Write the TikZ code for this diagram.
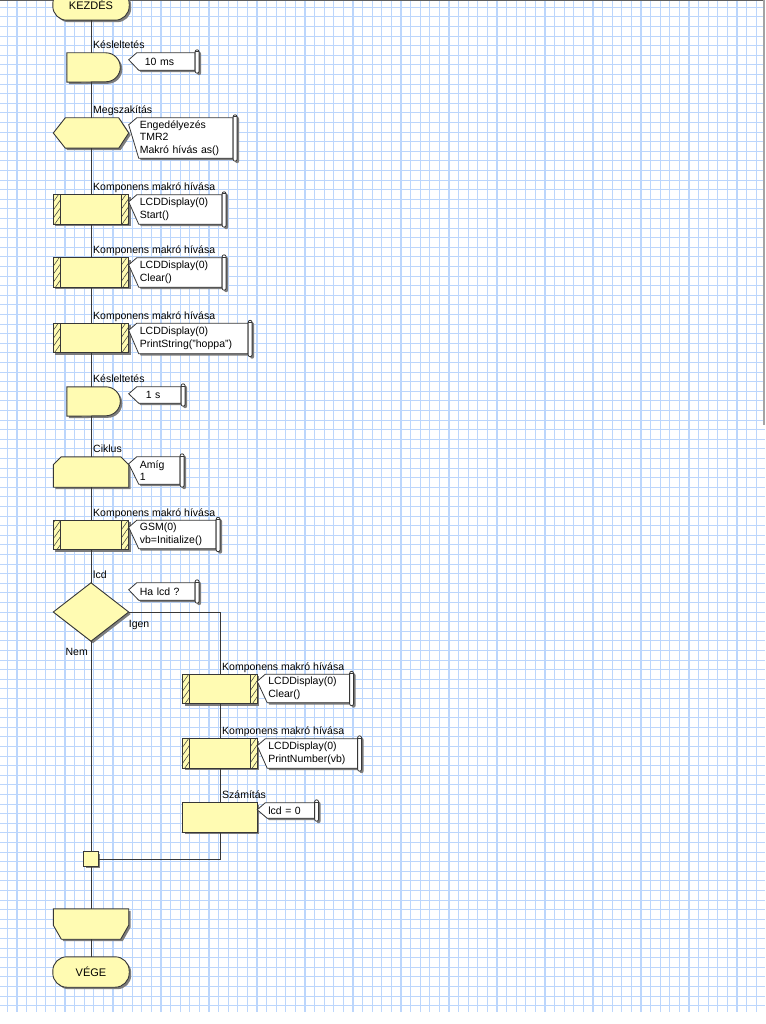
\documentclass[tikz,border=0pt]{standalone}
\usepackage{fontspec}
\setmainfont{Liberation Sans}
\usetikzlibrary{calc, positioning, shadows, patterns.meta}

\definecolor{flowyellow}{RGB}{255,251,178}
\definecolor{gridblue}{RGB}{188,214,252}
\definecolor{shadowgray}{RGB}{125,125,125}
\definecolor{linegray}{RGB}{55,55,55}

\pgfdeclarelayer{grid}
\pgfdeclarelayer{shapes}
\pgfsetlayers{grid,shapes,main}

\begin{document}
\begin{tikzpicture}[x=1pt, y=1pt,
    font=\fontsize{10.5}{12.5}\selectfont,
    gridline/.style={draw=gridblue, line width=1.1pt},
    flowline/.style={draw=linegray, line width=1pt},
    shapeline/.style={draw=linegray, line width=0.9pt, fill=flowyellow,
                      drop shadow={shadow xshift=2pt, shadow yshift=-2pt, fill=shadowgray, opacity=1}},
    paperline/.style={draw=linegray, line width=0.8pt, fill=white,
                      drop shadow={shadow xshift=2pt, shadow yshift=-2pt, fill=shadowgray, opacity=1}},
    hatch/.style={draw=linegray, line width=0.8pt,
                  pattern={Lines[angle=55, distance=4.6pt, line width=0.5pt]}, pattern color=linegray},
    lbl/.style={anchor=base west, inner sep=0pt},
    slot/.style={draw=none, inner sep=0pt, minimum width=75pt, minimum height=29pt},
    termbox/.style={slot, minimum width=76pt, minimum height=30pt, font=\fontsize{11}{13}\selectfont,
      append after command={\pgfextra{\begin{pgfonlayer}{shapes}
        \draw[shapeline, rounded corners=14pt] (\tikzlastnode.north west) rectangle (\tikzlastnode.south east);
      \end{pgfonlayer}}}},
    waitbox/.style={slot,
      append after command={\pgfextra{\begin{pgfonlayer}{shapes}
        \draw[shapeline] ([xshift=13.5pt]\tikzlastnode.north west) -- ++(39,0)
          arc[start angle=90, end angle=-90, radius=14.5]
          -- ([xshift=13.5pt]\tikzlastnode.south west) -- cycle;
      \end{pgfonlayer}}}},
    intrbox/.style={slot, minimum height=30pt,
      append after command={\pgfextra{\begin{pgfonlayer}{shapes}
        \draw[shapeline] ([xshift=12pt]\tikzlastnode.north west) -- ([xshift=-10pt]\tikzlastnode.north east)
          -- (\tikzlastnode.east) -- ([xshift=-10pt]\tikzlastnode.south east)
          -- ([xshift=12pt]\tikzlastnode.south west) -- (\tikzlastnode.west) -- cycle;
      \end{pgfonlayer}}}},
    macrobox/.style={slot,
      append after command={\pgfextra{\begin{pgfonlayer}{shapes}
        \draw[shapeline] (\tikzlastnode.north west) rectangle (\tikzlastnode.south east);
        \draw[hatch] (\tikzlastnode.north west) rectangle ([xshift=7pt]\tikzlastnode.south west);
        \draw[hatch] ([xshift=-7pt]\tikzlastnode.north east) rectangle (\tikzlastnode.south east);
      \end{pgfonlayer}}}},
    calcbox/.style={slot,
      append after command={\pgfextra{\begin{pgfonlayer}{shapes}
        \draw[shapeline] (\tikzlastnode.north west) rectangle (\tikzlastnode.south east);
      \end{pgfonlayer}}}},
    loopbox/.style={slot, minimum height=30pt,
      append after command={\pgfextra{\begin{pgfonlayer}{shapes}
        \draw[shapeline] ([xshift=8pt]\tikzlastnode.north west) -- ([xshift=-8pt]\tikzlastnode.north east)
          -- ([yshift=-8pt]\tikzlastnode.north east) -- (\tikzlastnode.south east)
          -- (\tikzlastnode.south west) -- ([yshift=-8pt]\tikzlastnode.north west) -- cycle;
      \end{pgfonlayer}}}},
    loopendbox/.style={slot, minimum height=30pt,
      append after command={\pgfextra{\begin{pgfonlayer}{shapes}
        \draw[shapeline] (\tikzlastnode.north west) -- (\tikzlastnode.north east)
          -- ([yshift=14pt]\tikzlastnode.south east) -- ([xshift=-8pt]\tikzlastnode.south east)
          -- ([xshift=8pt]\tikzlastnode.south west) -- ([yshift=14pt]\tikzlastnode.south west) -- cycle;
      \end{pgfonlayer}}}},
    decbox/.style={slot, minimum height=58pt,
      append after command={\pgfextra{\begin{pgfonlayer}{shapes}
        \draw[shapeline] (\tikzlastnode.north) -- (\tikzlastnode.east)
          -- (\tikzlastnode.south) -- (\tikzlastnode.west) -- cycle;
      \end{pgfonlayer}}}},
    joinbox/.style={slot, minimum width=14pt, minimum height=14pt,
      append after command={\pgfextra{\begin{pgfonlayer}{shapes}
        \draw[shapeline] (\tikzlastnode.north west) rectangle (\tikzlastnode.south east);
      \end{pgfonlayer}}}},
    note/.style 2 args={anchor=north west, inner xsep=0pt, inner ysep=0pt, align=left,
      text width=#1, minimum height=#2,
      append after command={\pgfextra{\begin{pgfonlayer}{shapes}
        \draw[paperline] ([xshift=-3pt]\tikzlastnode.north west)
          -- ([xshift=-11pt, yshift=-7pt]\tikzlastnode.north west)
          -- ([xshift=-1pt]\tikzlastnode.south west) -- ([xshift=2pt]\tikzlastnode.south east)
          -- ([xshift=2pt]\tikzlastnode.north east) -- cycle;
        \draw[paperline, rounded corners=2pt] ([xshift=2pt, yshift=3pt]\tikzlastnode.north east)
          rectangle ([xshift=6pt, yshift=-3pt]\tikzlastnode.south east);
        \draw[linegray, line width=0.6pt] ([xshift=2pt, yshift=1pt]\tikzlastnode.north east) -- ++(4,0);
      \end{pgfonlayer}}}}
  ]
  \useasboundingbox (0,0) rectangle (765,-1024);

  % squared paper
  \begin{pgfonlayer}{grid}
    \fill[white] (0,0) rectangle (765,-1024);
    \foreach \gx in {0,...,78}
      \draw[gridline] ({7.4+9.6*\gx},0) -- ++(0,-1012);
    \foreach \gy in {0,...,104}
      \draw[gridline] (0,{-7.3-9.6*\gy}) -- ++(765,0);
    \draw[linegray!80, line width=1pt] (0,-0.5) -- (765,-0.5);
    \draw[shadowgray!70, line width=2pt] (764,0) -- (764,-425);
  \end{pgfonlayer}

  % main branch
  \node[termbox]    (start)   at (91,-5)      {KEZDÉS};
  \node[waitbox]    (wait1)   at (91,-67.5)   {};
  \node[intrbox]    (intr)    at (91,-133)    {};
  \node[macrobox]   (lcdon)   at (91,-209.5)  {};
  \node[macrobox]   (lcdclr)  at (91,-272.5)  {};
  \node[macrobox]   (lcdtxt)  at (91,-338)    {};
  \node[waitbox]    (wait2)   at (91,-401.5)  {};
  \node[loopbox]    (loop)    at (91,-472)    {};
  \node[macrobox]   (gsm)     at (91,-535)    {};
  \node[decbox]     (dec)     at (91,-612)    {};
  \node[joinbox]    (join)    at (91,-859)    {};
  \node[loopendbox] (loopend) at (91,-924)    {};
  \node[termbox]    (stop)    at (91,-972)    {VÉGE};

  % yes branch
  \node[macrobox, minimum width=74pt] (yclr) at (220,-689)   {};
  \node[macrobox, minimum width=74pt] (ynum) at (220,-753.5) {};
  \node[calcbox,  minimum width=74pt] (ycalc) at (220,-817.5) {};

  % titles
  \node[lbl] at ([xshift=2pt, yshift=4pt]wait1.north)  {Késleltetés};
  \node[lbl] at ([xshift=2pt, yshift=4pt]intr.north)   {Megszakítás};
  \node[lbl] at ([xshift=2pt, yshift=4pt]lcdon.north)  {Komponens makró hívása};
  \node[lbl] at ([xshift=2pt, yshift=4pt]lcdclr.north) {Komponens makró hívása};
  \node[lbl] at ([xshift=2pt, yshift=4pt]lcdtxt.north) {Komponens makró hívása};
  \node[lbl] at ([xshift=2pt, yshift=4pt]wait2.north)  {Késleltetés};
  \node[lbl] at ([xshift=2pt, yshift=4pt]loop.north)   {Ciklus};
  \node[lbl] at ([xshift=2pt, yshift=4pt]gsm.north)    {Komponens makró hívása};
  \node[lbl] at ([xshift=2pt, yshift=4pt]dec.north)    {lcd};
  \node[lbl] at ([xshift=2pt, yshift=4pt]yclr.north)   {Komponens makró hívása};
  \node[lbl] at ([xshift=2pt, yshift=4pt]ynum.north)   {Komponens makró hívása};
  \node[lbl] at ([xshift=2pt, yshift=4pt]ycalc.north)  {Számítás};
  \node[lbl] at ([yshift=-15pt]dec.east) {Igen};
  \node[lbl, anchor=base east] at ([xshift=-3pt, yshift=-14pt]dec.south) {Nem};

  % comments
  \node[note={53pt}{17pt}] (n-wait1)  at ([xshift=11pt]wait1.north east)  {\hspace*{5pt}10 ms};
  \node[note={91pt}{40pt}] (n-intr)   at ([xshift=11pt]intr.north east)   {Engedélyezés\\TMR2\\Makró hívás as()};
  \node[note={80pt}{29pt}] (n-lcdon)  at ([xshift=11pt]lcdon.north east)  {LCDDisplay(0)\\Start()};
  \node[note={80pt}{29pt}] (n-lcdclr) at ([xshift=11pt]lcdclr.north east) {LCDDisplay(0)\\Clear()};
  \node[note={106pt}{30pt}] (n-lcdtxt) at ([xshift=11pt]lcdtxt.north east) {LCDDisplay(0)\\PrintString("hoppa")};
  \node[note={39pt}{16pt}] (n-wait2)  at ([xshift=11pt]wait2.north east)  {\hspace*{6pt}1 s};
  \node[note={38pt}{27pt}] (n-loop)   at ([xshift=11pt]loop.north east)   {Amíg\\1};
  \node[note={74pt}{28pt}] (n-gsm)    at ([xshift=11pt]gsm.north east)    {GSM(0)\\vb=Initialize()};
  \node[note={53pt}{17pt}] (n-dec)    at ([xshift=11pt]dec.north east)    {Ha lcd ?};
  \node[note={79pt}{28pt}] (n-yclr)   at ([xshift=11pt]yclr.north east)   {LCDDisplay(0)\\Clear()};
  \node[note={87pt}{29pt}] (n-ynum)   at ([xshift=11pt]ynum.north east)   {LCDDisplay(0)\\PrintNumber(vb)};
  \node[note={44pt}{15pt}] (n-ycalc)  at ([xshift=11pt]ycalc.north east)  {lcd = 0};

  % flow lines
  \draw[flowline] (start) -- (wait1);
  \draw[flowline] (wait1) -- (intr);
  \draw[flowline] (intr) -- (lcdon);
  \draw[flowline] (lcdon) -- (lcdclr);
  \draw[flowline] (lcdclr) -- (lcdtxt);
  \draw[flowline] (lcdtxt) -- (wait2);
  \draw[flowline] (wait2) -- (loop);
  \draw[flowline] (loop) -- (gsm);
  \draw[flowline] (gsm) -- (dec);
  \draw[flowline] (dec) -- (join);
  \draw[flowline] (dec.east) -| (yclr.north);
  \draw[flowline] (yclr) -- (ynum);
  \draw[flowline] (ynum) -- (ycalc);
  \draw[flowline] (ycalc.south) |- (join.east);
  \draw[flowline] (join) -- (loopend);
  \draw[flowline] (loopend) -- (stop);
\end{tikzpicture}
\end{document}
